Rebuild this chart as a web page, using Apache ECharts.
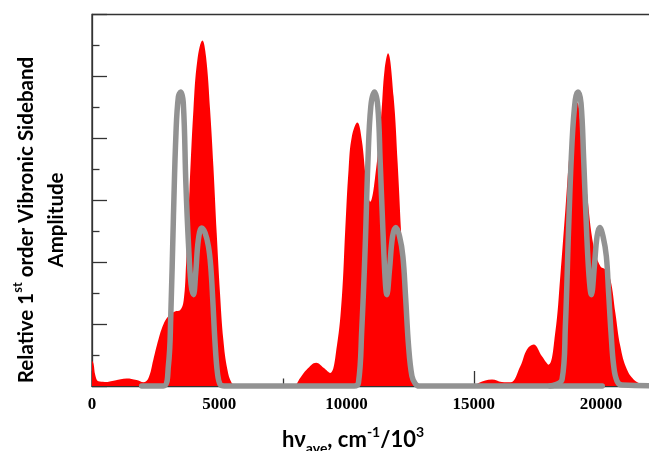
<!DOCTYPE html>
<html>
<head>
<meta charset="utf-8">
<script src="https://cdn.jsdelivr.net/npm/echarts@6/dist/echarts.min.js"></script>
<style>
  html, body { margin: 0; padding: 0; background: #fff; }
  #chart { width: 649px; height: 451px; }
</style>
</head>
<body>
<div id="chart"></div>
<script>
// Measured sideband envelope (filled, red)
const sidebandX = [0, 60, 130, 250, 500, 900, 1360, 1750, 2020, 2220, 2410, 2610, 2800, 3000, 3260, 3460, 3600, 3700, 3830, 3985, 4140, 4340, 4480, 4640, 4770, 4900, 5030, 5160, 5320, 5490, 5690, 6000,
  7900, 8180, 8440, 8810, 9100, 9360, 9620, 9820, 9950, 10080, 10210, 10430, 10600, 10770, 10930, 11190, 11370, 11495, 11630, 11850, 12010, 12140, 12270, 12410, 12570, 12770, 13000,
  15000, 15190, 15720, 16100, 16440, 16830, 17090, 17350, 17680, 17940, 18200, 18400, 18600, 18800, 18990, 19070, 19250, 19450, 19710, 19975, 20170, 20370, 20565, 20760, 21020, 21350, 21680, 22000];
const sidebandY = [0.82, 0.72, 0.35, 0.15, 0.13, 0.18, 0.24, 0.19, 0.12, 0.26, 0.85, 1.5, 1.98, 2.25, 2.41, 2.45, 2.75, 4.0, 6.3, 8.92, 10.53, 11.16, 10.64, 8.92, 7.09, 4.94, 3.0, 1.5, 0.53, 0.1, 0.02, 0,
  0, 0.26, 0.53, 0.75, 0.59, 0.42, 1.28, 2.9, 5.05, 6.98, 8.06, 8.51, 7.95, 6.66, 5.95, 7.2, 8.81, 10.21, 10.75, 9.35, 7.2, 5.05, 2.9, 1.28, 0.32, 0.05, 0,
  0, 0.1, 0.21, 0.13, 0.12, 0.64, 1.18, 1.34, 0.96, 0.69, 1.71, 3.54, 5.69, 7.84, 9.03, 9.15, 7.84, 6.23, 4.51, 3.87, 3.76, 3.43, 2.36, 1.28, 0.53, 0.16, 0.05, 0];

// Model trace, first two bands (grey)
const modelAX = [1950, 2800, 3000, 3095, 3200, 3300, 3395, 3487, 3590, 3690, 3790, 3890, 3985, 4075, 4180, 4310, 4445, 4575, 4665, 4745, 4835, 4930, 5035, 5200,
  10300, 10470, 10600, 10735, 10840, 10955, 11100, 11230, 11325, 11430, 11520, 11585, 11690, 11810, 11940, 12085, 12215, 12320, 12440, 12570, 12700, 12850, 20050];
const modelAY = [0, 0, 0.64, 2.25, 5.48, 8.17, 9.35, 9.5, 9.1, 6.5, 4.6, 3.3, 2.95, 3.65, 4.73, 5.1, 4.94, 4.51, 3.87, 2.79, 1.39, 0.42, 0.05, 0,
  0, 0.1, 1.82, 4.51, 7.2, 9.03, 9.5, 9.03, 7.2, 5.05, 3.44, 2.95, 3.76, 4.83, 5.12, 4.83, 4.19, 2.9, 1.28, 0.32, 0.08, 0, 0];

// Model trace, third band (grey)
const modelBX = [18000, 18470, 18600, 18730, 18860, 18990, 19097, 19215, 19320, 19425, 19530, 19621, 19740, 19845, 19950, 20080, 20210, 20300, 20395, 20500, 20630, 20830, 23000];
const modelBY = [0, 0.21, 1.93, 5.16, 7.84, 9.24, 9.5, 9.13, 7.31, 5.16, 3.54, 2.95, 3.87, 4.83, 5.12, 4.83, 4.19, 3.0, 1.71, 0.64, 0.16, 0.03, 0];

const xLabelStep = 5000;
const xTickStep = 15000;
const yTickStep = 2;

const zip = (xs, ys) => xs.map((x, i) => [x, ys[i]]);

const AXIS = '#333';
const GREY = '#929292';

const chart = echarts.init(document.getElementById('chart'), null, { renderer: 'canvas' });
chart.setOption({
  animation: false,
  backgroundColor: '#fff',
  grid: {
    left: 92, top: 14.5, bottom: 65, right: -206.5,
    outerBoundsMode: 'none', containLabel: false,
    show: true, borderColor: AXIS, borderWidth: 1.3, backgroundColor: 'transparent'
  },
  xAxis: [
    {
      type: 'value', min: 0, max: 30000, interval: xLabelStep, position: 'bottom',
      axisLine: { show: true, lineStyle: { color: AXIS, width: 1.3 } },
      axisTick: { show: false },
      splitLine: { show: false },
      axisLabel: {
        color: '#000', fontFamily: 'Liberation Serif', fontWeight: 'bold', fontSize: 17,
        margin: 10, showMaxLabel: false, formatter: (v) => String(v)
      }
    },
    {
      type: 'value', min: 0, max: 30000, interval: xTickStep, position: 'bottom',
      axisLine: { show: false },
      axisLabel: { show: false },
      splitLine: { show: false },
      axisTick: { show: true, inside: true, length: 15, lineStyle: { color: AXIS, width: 1.3 } },
      minorTick: { show: true, splitNumber: 2, length: 7.5, lineStyle: { color: AXIS, width: 1.3 } }
    }
  ],
  yAxis: {
    type: 'value', min: 0, max: 12, interval: yTickStep,
    axisLine: { show: true, lineStyle: { color: AXIS, width: 1.3 } },
    axisLabel: { show: false },
    splitLine: { show: false },
    axisTick: { show: true, inside: true, length: 15, lineStyle: { color: AXIS, width: 1.3 } },
    minorTick: { show: true, splitNumber: 2, length: 7.5, lineStyle: { color: AXIS, width: 1.3 } }
  },
  series: [
    {
      type: 'line', xAxisIndex: 0, data: zip(sidebandX, sidebandY),
      smooth: 0.4, showSymbol: false, symbol: 'none',
      lineStyle: { width: 0, color: '#ff0000' },
      areaStyle: { color: '#ff0000', opacity: 1 },
      z: 2
    },
    {
      type: 'line', xAxisIndex: 0, data: zip(modelAX, modelAY),
      smooth: 0.4, showSymbol: false, symbol: 'none', clip: false,
      lineStyle: { width: 5.5, color: GREY, cap: 'round', join: 'round' },
      z: 3
    },
    {
      type: 'line', xAxisIndex: 0, data: zip(modelBX, modelBY),
      smooth: 0.4, showSymbol: false, symbol: 'none', clip: false,
      lineStyle: { width: 5.5, color: GREY, cap: 'round', join: 'round' },
      z: 3
    }
  ],
  graphic: [
    {
      type: 'text', x: 41, y: 220, rotation: Math.PI / 2,
      style: {
        text: 'Relative 1{sup|st} order Vibronic Sideband\nAmplitude',
        fill: '#000', font: 'bold 20.5px Lato', align: 'center', verticalAlign: 'middle',
        lineHeight: 30,
        rich: {
          sup: { fontSize: 13, fontWeight: 'bold', fontFamily: 'Lato', fill: '#000', verticalAlign: 'top', lineHeight: 30 }
        }
      }
    },
    {
      type: 'text', x: 353, y: 440,
      style: {
        text: 'hν{sub|ave}, cm{sup|-1}/10{sup|3}',
        fill: '#000', font: 'bold 22px Lato', align: 'center', verticalAlign: 'middle',
        lineHeight: 30,
        rich: {
          sub: { fontSize: 14, fontWeight: 'bold', fontFamily: 'Lato', fill: '#000', verticalAlign: 'bottom', lineHeight: 30 },
          sup: { fontSize: 14, fontWeight: 'bold', fontFamily: 'Lato', fill: '#000', verticalAlign: 'top', lineHeight: 30 }
        }
      }
    }
  ]
});
</script>
</body>
</html>
